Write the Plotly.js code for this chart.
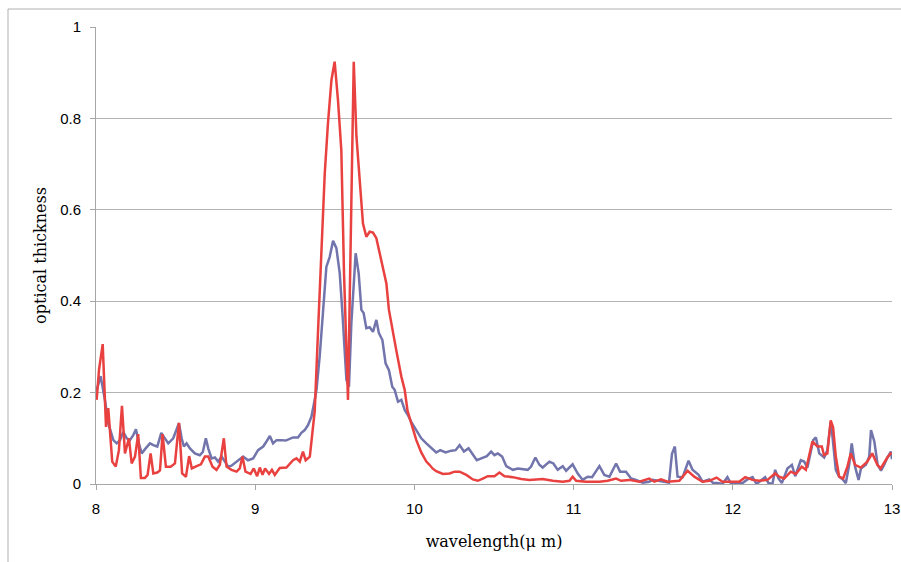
<!DOCTYPE html>
<html>
<head>
<meta charset="utf-8">
<script src="https://cdn.plot.ly/plotly-3.0.1.min.js"></script>
<style>html,body{margin:0;padding:0;background:#fff;}#chart{width:901px;height:562px;}</style>
</head>
<body>
<div id="chart"></div>
<script>
// Series A (red)
const redX = [8.004,8.019,8.042,8.063,8.077,8.102,8.124,8.144,8.163,8.182,8.207,8.224,8.245,8.265,8.282,8.307,8.324,8.343,8.36,8.385,8.402,8.418,8.439,8.469,8.496,8.521,8.541,8.565,8.585,8.602,8.632,8.659,8.684,8.705,8.732,8.757,8.778,8.803,8.82,8.851,8.883,8.903,8.92,8.939,8.971,8.991,9.012,9.029,9.046,9.062,9.087,9.105,9.123,9.154,9.196,9.238,9.259,9.28,9.30,9.317,9.343,9.36,9.374,9.395,9.42,9.437,9.457,9.479,9.499,9.52,9.541,9.558,9.583,9.604,9.619,9.636,9.656,9.677,9.698,9.719,9.74,9.761,9.782,9.802,9.824,9.84,9.865,9.886,9.918,9.939,9.957,9.98,10.012,10.043,10.075,10.095,10.114,10.137,10.179,10.221,10.252,10.284,10.326,10.367,10.398,10.43,10.461,10.503,10.534,10.566,10.618,10.671,10.723,10.806,10.869,10.932,10.974,10.994,11.016,11.078,11.162,11.214,11.267,11.298,11.35,11.413,11.475,11.507,11.549,11.59,11.664,11.716,11.758,11.81,11.852,11.898,11.935,12.04,12.078,12.124,12.166,12.218,12.266,12.291,12.323,12.364,12.396,12.433,12.459,12.50,12.532,12.559,12.573,12.594,12.615,12.63,12.647,12.668,12.693,12.72,12.741,12.768,12.804,12.845,12.876,12.908,12.929,12.971,12.996];
const redY = [0.184,0.25,0.306,0.125,0.166,0.049,0.038,0.074,0.171,0.067,0.10,0.045,0.06,0.109,0.013,0.013,0.02,0.067,0.023,0.025,0.03,0.109,0.038,0.038,0.045,0.134,0.023,0.016,0.061,0.034,0.039,0.043,0.06,0.06,0.038,0.031,0.042,0.10,0.038,0.031,0.027,0.034,0.06,0.027,0.022,0.034,0.017,0.036,0.02,0.034,0.022,0.031,0.02,0.035,0.036,0.052,0.056,0.049,0.071,0.052,0.06,0.118,0.16,0.337,0.549,0.68,0.789,0.884,0.924,0.84,0.73,0.46,0.184,0.571,0.924,0.76,0.658,0.57,0.541,0.552,0.55,0.538,0.505,0.475,0.439,0.381,0.337,0.293,0.235,0.206,0.16,0.133,0.096,0.069,0.049,0.042,0.034,0.028,0.022,0.023,0.027,0.027,0.02,0.01,0.007,0.012,0.017,0.017,0.025,0.017,0.015,0.011,0.009,0.011,0.007,0.005,0.007,0.016,0.007,0.005,0.005,0.007,0.012,0.007,0.009,0.005,0.012,0.005,0.01,0.005,0.007,0.029,0.016,0.005,0.007,0.014,0.005,0.005,0.015,0.009,0.007,0.009,0.023,0.016,0.012,0.027,0.022,0.038,0.031,0.093,0.082,0.082,0.063,0.067,0.139,0.124,0.06,0.016,0.012,0.038,0.067,0.042,0.036,0.049,0.067,0.042,0.034,0.058,0.069];

// Series B (blue-grey)
const blueX = [8.004,8.029,8.056,8.077,8.109,8.13,8.151,8.171,8.193,8.213,8.234,8.251,8.272,8.287,8.312,8.339,8.36,8.385,8.41,8.433,8.454,8.485,8.506,8.521,8.538,8.552,8.569,8.59,8.621,8.652,8.671,8.69,8.705,8.726,8.747,8.767,8.789,8.809,8.83,8.851,8.883,8.924,8.955,8.987,9.018,9.05,9.071,9.092,9.112,9.134,9.161,9.192,9.238,9.269,9.29,9.311,9.332,9.353,9.37,9.385,9.405,9.426,9.447,9.468,9.489,9.51,9.531,9.548,9.562,9.573,9.589,9.604,9.631,9.65,9.667,9.681,9.698,9.719,9.74,9.761,9.777,9.799,9.819,9.84,9.861,9.876,9.897,9.918,9.939,9.959,9.98,10.012,10.043,10.075,10.106,10.137,10.162,10.196,10.232,10.259,10.284,10.311,10.34,10.367,10.392,10.42,10.455,10.482,10.503,10.524,10.551,10.577,10.618,10.65,10.681,10.712,10.733,10.76,10.785,10.806,10.848,10.873,10.9,10.932,10.953,10.994,11.026,11.057,11.088,11.116,11.162,11.193,11.225,11.267,11.292,11.329,11.361,11.392,11.434,11.475,11.496,11.58,11.599,11.618,11.636,11.653,11.685,11.722,11.747,11.785,11.81,11.852,11.877,11.904,11.935,11.966,11.987,12.061,12.092,12.124,12.149,12.203,12.224,12.249,12.266,12.287,12.308,12.343,12.371,12.392,12.427,12.448,12.469,12.505,12.522,12.543,12.574,12.594,12.615,12.626,12.647,12.668,12.693,12.71,12.731,12.747,12.768,12.79,12.805,12.836,12.857,12.868,12.889,12.91,12.931,12.951,12.971,12.993,13.0];
const blueY = [0.205,0.236,0.184,0.133,0.096,0.089,0.096,0.114,0.10,0.096,0.107,0.12,0.085,0.067,0.078,0.089,0.085,0.082,0.112,0.10,0.089,0.10,0.118,0.133,0.10,0.082,0.089,0.078,0.067,0.063,0.07,0.10,0.078,0.056,0.058,0.049,0.06,0.049,0.038,0.04,0.049,0.06,0.052,0.056,0.074,0.082,0.093,0.105,0.089,0.096,0.096,0.095,0.102,0.102,0.112,0.118,0.129,0.147,0.177,0.206,0.279,0.374,0.475,0.497,0.532,0.516,0.461,0.374,0.279,0.228,0.213,0.352,0.505,0.461,0.381,0.374,0.341,0.343,0.333,0.359,0.33,0.315,0.264,0.249,0.213,0.206,0.18,0.184,0.162,0.151,0.136,0.118,0.10,0.089,0.078,0.069,0.074,0.069,0.073,0.074,0.085,0.071,0.078,0.063,0.052,0.056,0.061,0.071,0.063,0.067,0.06,0.039,0.031,0.034,0.032,0.031,0.038,0.058,0.042,0.036,0.049,0.045,0.031,0.039,0.029,0.043,0.023,0.009,0.016,0.015,0.039,0.02,0.016,0.045,0.027,0.027,0.012,0.009,0.003,0.005,0.009,0.003,0.003,0.066,0.082,0.016,0.015,0.051,0.031,0.02,0.005,0.01,0.002,0.002,0,0.015,0.002,0.002,0.01,0.015,0,0.015,0.002,0,0.031,0.012,0.002,0.034,0.042,0.017,0.052,0.049,0.036,0.096,0.102,0.067,0.058,0.074,0.136,0.104,0.031,0.016,0.009,0.002,0.042,0.089,0.038,0.009,0.034,0.042,0.06,0.118,0.093,0.042,0.029,0.042,0.058,0.071,0.054];

const xTicks = [8,9,10,11,12,13];
const yTicks = [0,0.2,0.4,0.6,0.8,1];
const xTitle = 'wavelength(μ m)';
const yTitle = 'optical thickness';

const traces = [
  {x: blueX, y: blueY, type: 'scatter', mode: 'lines', name: 'B',
   line: {color: '#7274AC', width: 2.5}},
  {x: redX, y: redY, type: 'scatter', mode: 'lines', name: 'A',
   line: {color: '#E8413F', width: 2.5}}
];

const plotW = 901 - 96 - 9;
const plotH = 562 - 27 - 78;

const layout = {
  width: 901, height: 562,
  margin: {l: 96, r: 9, t: 27, b: 78},
  paper_bgcolor: '#ffffff', plot_bgcolor: '#ffffff',
  showlegend: false,
  font: {family: 'Liberation Sans, Arial, sans-serif', size: 14, color: '#000'},
  xaxis: {
    range: [8, 13], tickvals: xTicks, ticktext: xTicks.map(String),
    showgrid: false, zeroline: false, showline: true, linecolor: '#a6a6a6', linewidth: 1,
    ticks: 'outside', ticklen: 5, tickcolor: '#a6a6a6', ticklabelstandoff: 6,
    tickfont: {family: 'Liberation Sans, Arial, sans-serif', size: 15, color: '#000'},
    title: {text: xTitle, standoff: 19,
            font: {family: 'DejaVu Serif, Liberation Serif, serif', size: 16, color: '#000'}}
  },
  yaxis: {
    range: [0, 1], tickvals: yTicks, ticktext: ['0','0.2','0.4','0.6','0.8','1'],
    showgrid: true, gridcolor: '#b3b3b3', gridwidth: 1, zeroline: false,
    showline: true, linecolor: '#a6a6a6', linewidth: 1,
    ticks: 'outside', ticklen: 5, tickcolor: '#a6a6a6', ticklabelstandoff: 6,
    tickfont: {family: 'Liberation Sans, Arial, sans-serif', size: 15, color: '#000'},
    title: {text: yTitle, standoff: 9,
            font: {family: 'DejaVu Serif, Liberation Serif, serif', size: 16, color: '#000'}}
  },
  shapes: [
    {type: 'rect', xref: 'paper', yref: 'paper',
     x0: (8 - 96) / plotW, x1: (910 - 96) / plotW,
     y0: -0.3, y1: (484 - 9) / plotH,
     line: {color: '#b0b0b0', width: 1}, fillcolor: 'rgba(0,0,0,0)', layer: 'below'}
  ]
};

Plotly.newPlot('chart', traces, layout, {staticPlot: true, displayModeBar: false});
</script>
</body>
</html>
